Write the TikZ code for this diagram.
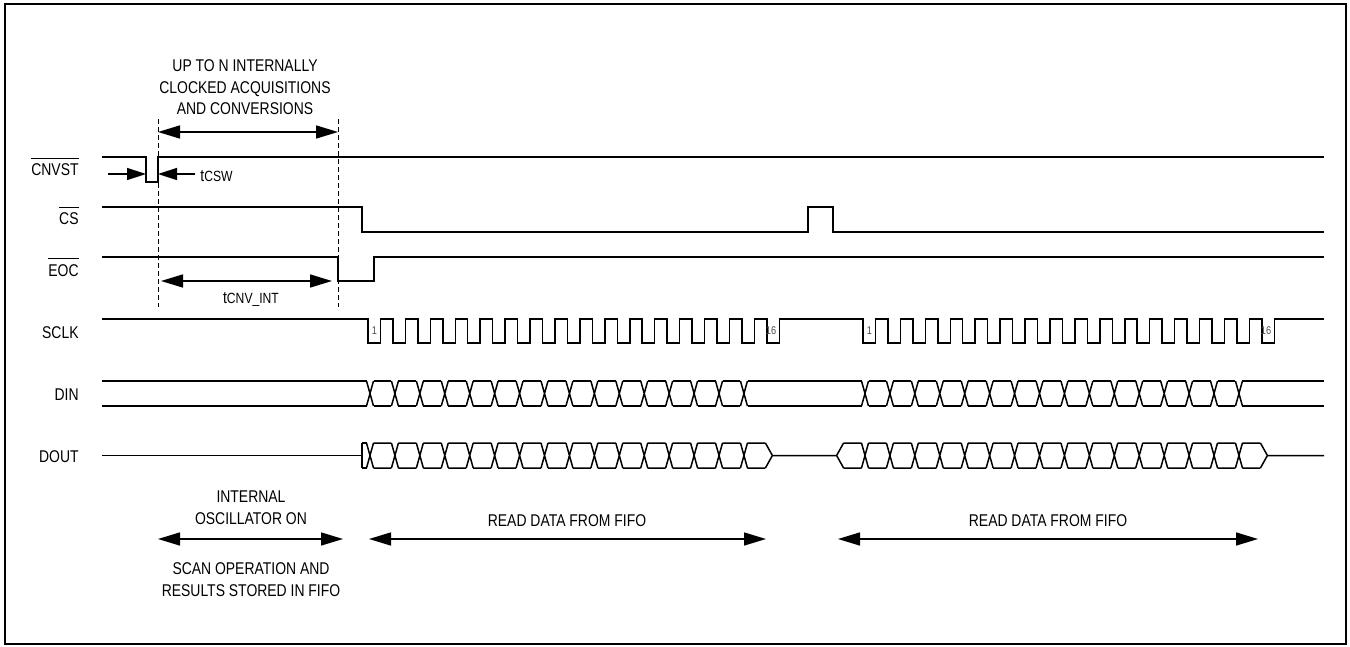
\documentclass[tikz,border=0pt]{standalone}
\usepackage{fontspec}
\setmainfont{Liberation Sans}[FakeStretch=0.82]
\usetikzlibrary{arrows.meta}
\newcommand{\sigbar}[1]{\vbox{\hrule height 0.6pt\kern 2.4pt\hbox{#1}}}
\newcommand{\tsub}[1]{t{\fontsize{7.4}{8}\selectfont #1}}
\def\per{24.93}

\begin{document}
\begin{tikzpicture}[x=0.5pt,y=-0.5pt,font=\fontsize{8.5}{10.75}\selectfont,
  sig/.style={line width=0.75pt},
  lbl/.style={anchor=base east,inner sep=0pt},
  txt/.style={align=center,inner sep=0pt},
  num/.style={inner sep=0pt,text=black!70,font=\fontsize{5.6}{6}\selectfont},
  dim/.style={line width=0.75pt,{Triangle[length=11pt,width=6.5pt]}-{Triangle[length=11pt,width=6.5pt]}},
  tip/.style={line width=0.75pt,-{Triangle[length=9.5pt,width=6pt]}},
  guide/.style={line width=0.5pt,dash pattern=on 2.5pt off 1.5pt}]
\useasboundingbox (0,0) rectangle (1350,647);
\draw[line width=1pt] (5,4) rectangle (1346,644);

% signal names
\node[lbl] (cnvst) at (79,176) {\sigbar{CNVST}};
\node[lbl] (cs) at (79,225) {\sigbar{CS}};
\node[lbl] (eoc) at (79,276) {\sigbar{EOC}};
\node[lbl] (sclk) at (79,338) {SCLK};
\node[lbl] (din) at (79,400) {DIN};
\node[lbl] (dout) at (79,462) {DOUT};

% control lines
\draw[sig] (102,157) -- (146,157) -- (146,182) -- (158,182) -- (158,157) -- (1324,157);
\draw[sig] (102,207) -- (362,207) -- (362,232) -- (808,232) -- (808,207) -- (833,207) -- (833,232) -- (1324,232);
\draw[sig] (102,257) -- (338,257) -- (338,281) -- (374,281) -- (374,257) -- (1324,257);

% clock
\draw[sig] (102,319)
  foreach \k in {0,...,16}{ -- ({368+\k*\per},319) -- ++(0,24) -- ++(12.5,0) -- ++(0,-24) }
  -- (863,319)
  foreach \k in {0,...,16}{ -- ({863+\k*\per},319) -- ++(0,24) -- ++(12.5,0) -- ++(0,-24) }
  -- (1324,319);
\node[num] (c1a) at (374.5,331) {1};
\node[num] (c16a) at (771,331) {16};
\node[num] (c1b) at (869.5,331) {1};
\node[num] (c16b) at (1266,331) {16};

% data buses
\foreach \s in {370,865}{
  \foreach \k in {0,...,15}{
    \pgfmathsetmacro{\c}{\s+\k*\per}
    \draw[sig] (\c-3.5,381) -- (\c+3.5,406) (\c-3.5,406) -- (\c+3.5,381)
               (\c-3.5,443) -- (\c+3.5,468) (\c-3.5,468) -- (\c+3.5,443)
               (\c+3.5,443) -- (\c+\per-3.5,443) (\c+3.5,468) -- (\c+\per-3.5,468);
  }
  \foreach \k in {0,...,14}{
    \pgfmathsetmacro{\c}{\s+\k*\per}
    \draw[sig] (\c+3.5,381) -- (\c+\per-3.5,381) (\c+3.5,406) -- (\c+\per-3.5,406);
  }
}
\draw[sig] (102,381) -- (366.5,381) (102,406) -- (366.5,406)
  (747.5,381) -- (861.5,381) (747.5,406) -- (861.5,406)
  (1242.4,381) -- (1324,381) (1242.4,406) -- (1324,406);
\draw[sig] (102,455.5) -- (362,455.5) (362,443) -- (362,468)
  (362,443) -- (366.5,443) (362,468) -- (366.5,468);
\draw[sig] (765.4,443) -- (772.4,455.5) -- (765.4,468)
  (772.4,455.5) -- (836.6,455.5)
  (843.6,443) -- (836.6,455.5) -- (843.6,468)
  (843.6,443) -- (861.5,443) (843.6,468) -- (861.5,468)
  (1260.4,443) -- (1267.4,455.5) -- (1260.4,468)
  (1267.4,455.5) -- (1324,455.5);

% timing marks
\draw[guide] (158,119) -- (158,307);
\draw[guide] (338,119) -- (338,307);
\draw[dim] (158,132) -- (338,132);
\draw[dim] (161,281) -- (332,281);
\draw[tip] (108,174) -- (146,174);
\draw[tip] (195,174) -- (158,174);
\node[anchor=base west,inner sep=0pt] (tcsw) at (200,182) {\tsub{CSW}};
\node[anchor=base,inner sep=0pt] (tcnv) at (251,303) {\tsub{CNV\_INT}};
\node[txt] (upto) at (245,87.5) {UP TO N INTERNALLY\\CLOCKED ACQUISITIONS\\AND CONVERSIONS};

% phases
\draw[dim] (158,539) -- (343,539);
\draw[dim] (369,539) -- (766,539);
\draw[dim] (838,539) -- (1258,539);
\node[txt,font=\fontsize{8.5}{11.25}\selectfont] (osc) at (251,507.5) {INTERNAL\\OSCILLATOR ON};
\node[txt,font=\fontsize{8.5}{11.25}\selectfont] (scan) at (251,579.5) {SCAN OPERATION AND\\RESULTS STORED IN FIFO};
\node[anchor=base,inner sep=0pt] (read1) at (567,526) {READ DATA FROM FIFO};
\node[anchor=base,inner sep=0pt] (read2) at (1048,526) {READ DATA FROM FIFO};
\end{tikzpicture}
\end{document}
